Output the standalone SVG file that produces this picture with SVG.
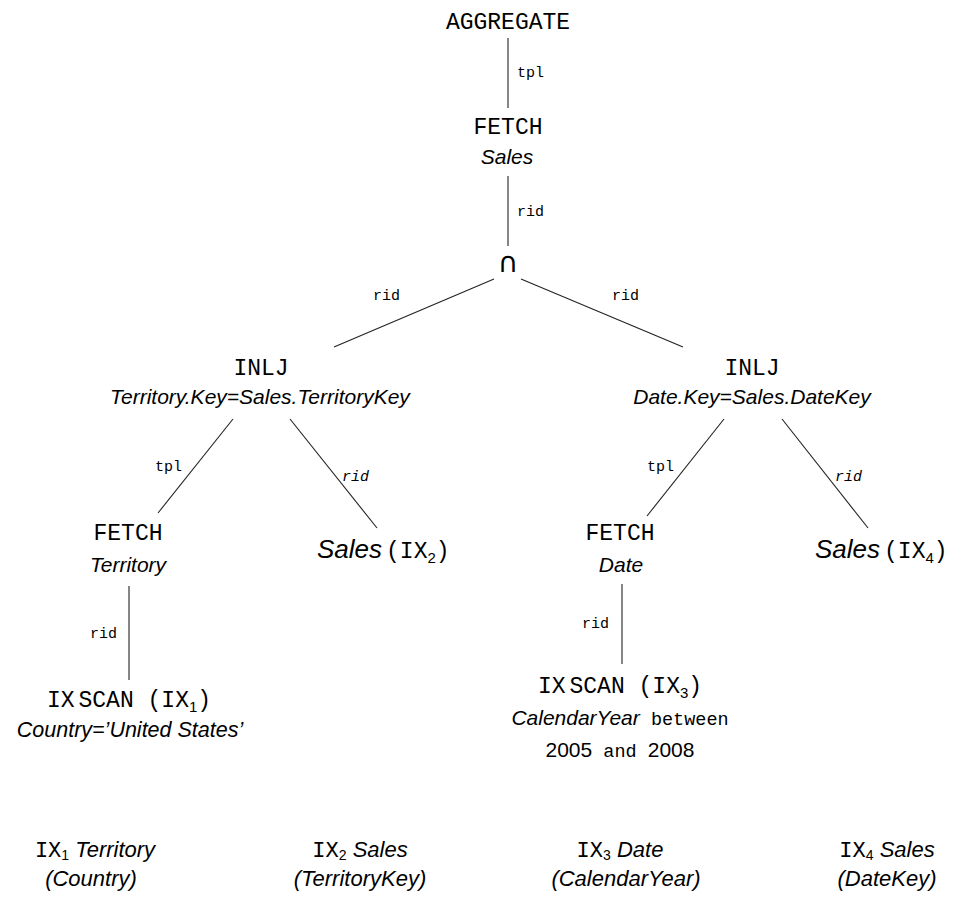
<svg xmlns="http://www.w3.org/2000/svg" width="956" height="898" viewBox="0 0 956 898">
<style>
.m{font-family:"Liberation Mono","DejaVu Sans Mono",monospace;font-size:23px;fill:#000}
.lm{font-family:"Liberation Mono","DejaVu Sans Mono",monospace;font-size:22px;font-style:normal}
.s{font-family:"Liberation Mono","DejaVu Sans Mono",monospace;font-size:15px;fill:#000}
.b{font-family:"Liberation Mono","DejaVu Sans Mono",monospace;font-size:18.5px;fill:#000}
.i{font-family:"Liberation Sans",Arial,sans-serif;font-style:italic;font-size:21px;fill:#000}
.n{font-family:"Liberation Sans",Arial,sans-serif;font-size:21px;fill:#000}
.sub{font-family:"Liberation Sans",Arial,sans-serif;font-style:normal;font-size:15px}
.ls{font-family:"Liberation Sans",Arial,sans-serif;font-style:normal;font-size:14px}
.lg{font-family:"Liberation Sans",Arial,sans-serif;font-style:italic;font-size:22px;fill:#000}
.c{text-anchor:middle}
.e{stroke:#222;stroke-width:1.1;fill:none}
</style>
<rect width="956" height="898" fill="#fff"/>
<g id="connectors">
<line class="e" x1="508" y1="38" x2="508" y2="108"/>
<text class="s" x="517" y="77">tpl</text>
<line class="e" x1="508" y1="176" x2="508" y2="246"/>
<text class="s" x="517" y="216">rid</text>
<line class="e" x1="494" y1="279" x2="334" y2="347"/>
<text class="s" x="373" y="300">rid</text>
<line class="e" x1="521" y1="279" x2="683" y2="347"/>
<text class="s" x="612" y="300">rid</text>
<line class="e" x1="233" y1="419" x2="158" y2="513"/>
<text class="s" x="155" y="471">tpl</text>
<line class="e" x1="290" y1="419" x2="377" y2="528"/>
<text class="s" x="342" y="481" font-style="italic">rid</text>
<line class="e" x1="724" y1="419" x2="647" y2="516"/>
<text class="s" x="647" y="471">tpl</text>
<line class="e" x1="782" y1="419" x2="868" y2="528"/>
<text class="s" x="835" y="481" font-style="italic">rid</text>
<line class="e" x1="129" y1="586" x2="129" y2="680"/>
<text class="s" x="90" y="638">rid</text>
<line class="e" x1="622" y1="584" x2="622" y2="664"/>
<text class="s" x="582" y="628">rid</text>
</g>
<g id="aggregate"><text class="m c" x="508" y="29">AGGREGATE</text></g>
<g id="fetch-sales">
<text class="m c" x="508" y="134">FETCH</text>
<text class="i c" x="507" y="164">Sales</text>
</g>
<g id="intersect"><text class="c" x="508" y="272" style="font-family:'DejaVu Sans',sans-serif;font-size:28px">∩</text></g>
<g id="inlj-territory">
<text class="m c" x="261" y="375">INLJ</text>
<text class="i c" x="260" y="404">Territory.Key=Sales.TerritoryKey</text>
</g>
<g id="inlj-date">
<text class="m c" x="752" y="375">INLJ</text>
<text class="i c" x="752" y="404">Date.Key=Sales.DateKey</text>
</g>
<g id="fetch-territory">
<text class="m c" x="128" y="540">FETCH</text>
<text class="i c" x="128" y="572">Territory</text>
</g>
<g id="sales-ix2">
<text x="317" y="558"><tspan class="i" style="font-size:26px">Sales</tspan><tspan class="m" dx="4">(IX</tspan><tspan class="sub" dy="5">2</tspan><tspan class="m" dy="-5">)</tspan></text>
</g>
<g id="fetch-date">
<text class="m c" x="620" y="540">FETCH</text>
<text class="i c" x="621" y="572">Date</text>
</g>
<g id="sales-ix4">
<text x="815" y="558"><tspan class="i" style="font-size:26px">Sales</tspan><tspan class="m" dx="4">(IX</tspan><tspan class="sub" dy="5">4</tspan><tspan class="m" dy="-5">)</tspan></text>
</g>
<g id="ixscan-1">
<text class="m c" x="129" y="707">IX<tspan dx="4">SCAN</tspan> (IX<tspan class="sub" dy="5">1</tspan><tspan dy="-5">)</tspan></text>
<text class="i c" x="130" y="737" style="font-size:21.5px">Country=’United States’</text>
</g>
<g id="ixscan-3">
<text class="m c" x="620" y="693">IX<tspan dx="4">SCAN</tspan> (IX<tspan class="sub" dy="5">3</tspan><tspan dy="-5">)</tspan></text>
<text class="c" x="620" y="725"><tspan class="i">CalendarYear</tspan><tspan class="b"> between</tspan></text>
<text class="c" x="620" y="757"><tspan class="n">2005</tspan><tspan class="b"> and </tspan><tspan class="n">2008</tspan></text>
</g>
<g id="legend-1">
<text class="lg c" x="95" y="857"><tspan class="lm">IX</tspan><tspan class="ls" dy="3">1</tspan><tspan dy="-3"> Territory</tspan></text>
<text class="lg c" x="91" y="886">(Country)</text>
</g>
<g id="legend-2">
<text class="lg c" x="360" y="857"><tspan class="lm">IX</tspan><tspan class="ls" dy="3">2</tspan><tspan dy="-3"> Sales</tspan></text>
<text class="lg c" x="360" y="886">(TerritoryKey)</text>
</g>
<g id="legend-3">
<text class="lg c" x="620" y="857"><tspan class="lm">IX</tspan><tspan class="ls" dy="3">3</tspan><tspan dy="-3"> Date</tspan></text>
<text class="lg c" x="626" y="886">(CalendarYear)</text>
</g>
<g id="legend-4">
<text class="lg c" x="887" y="857"><tspan class="lm">IX</tspan><tspan class="ls" dy="3">4</tspan><tspan dy="-3"> Sales</tspan></text>
<text class="lg c" x="887" y="886">(DateKey)</text>
</g>
</svg>
